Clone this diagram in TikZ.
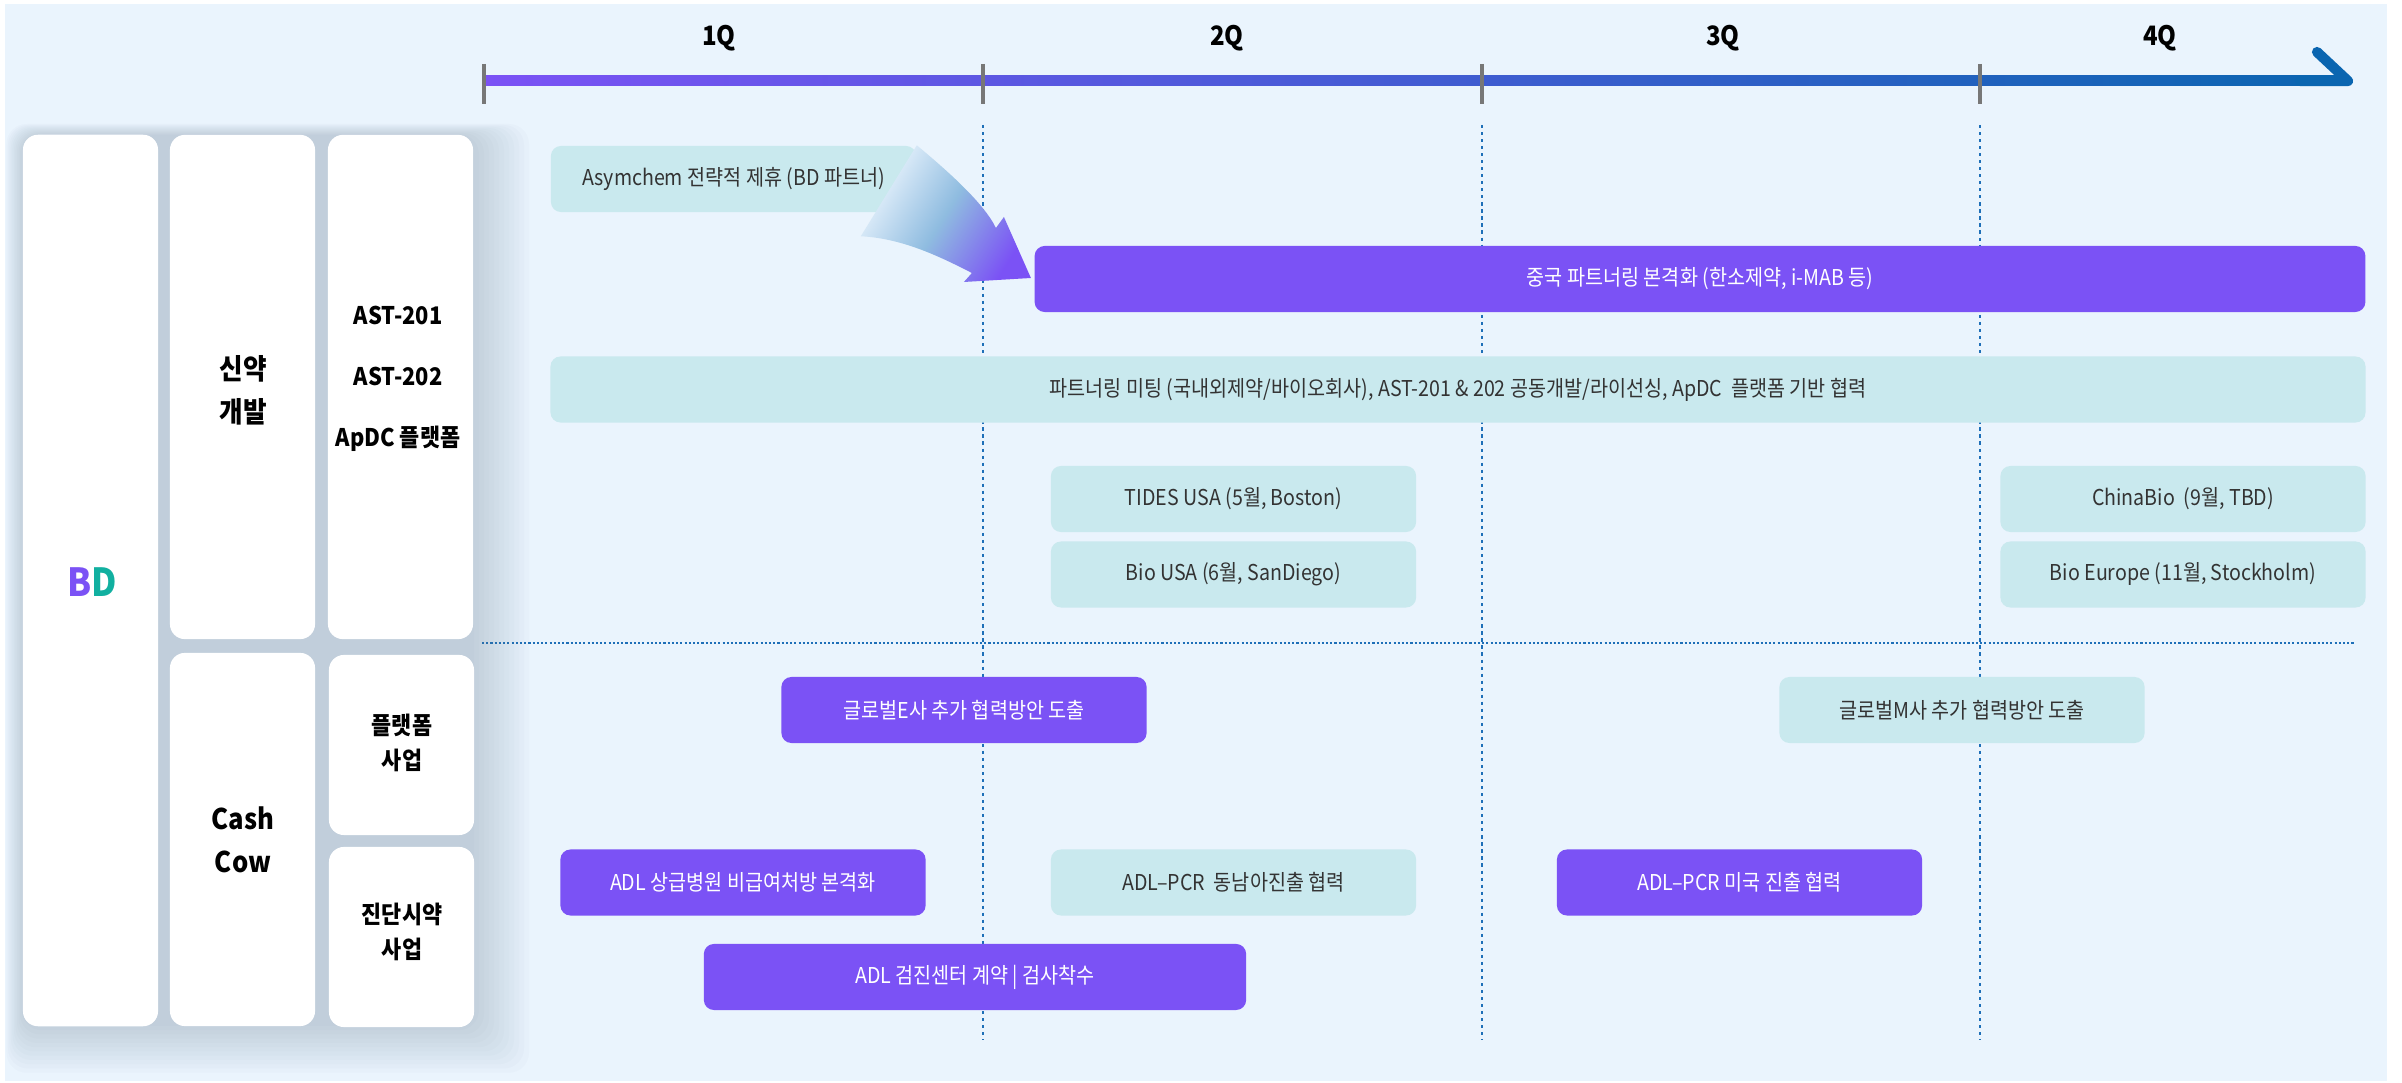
\documentclass[tikz,border=0pt]{standalone}
\usepackage{fontspec}
\setmainfont{Noto Sans CJK KR}[FakeStretch=0.9]
\usetikzlibrary{calc}

\definecolor{bdBg}{HTML}{EAF4FD}
\definecolor{bdPurple}{HTML}{7B52F5}
\definecolor{bdTeal}{HTML}{C9E9EE}
\definecolor{bdGreen}{HTML}{11B0A0}
\definecolor{bdBlue}{HTML}{0A65B0}
\definecolor{bdMidBlue}{HTML}{8FBCE0}
\definecolor{bdDot}{HTML}{1E6FB8}
\definecolor{bdTick}{HTML}{777777}
\definecolor{bdText}{HTML}{333333}
\definecolor{bdShadow}{HTML}{5A6F8C}

\tikzset{
  panel/.style={fill=white, rounded corners=0.15cm, inner sep=0pt, minimum width=1.45cm},
  tealbox/.style={fill=bdTeal, rounded corners=0.1cm, inner sep=0pt, minimum width=3.65cm,
    minimum height=0.66cm, text=bdText, font=\fontsize{6.2pt}{7.5pt}\selectfont},
  purplebox/.style={tealbox, fill=bdPurple, text=white},
  quarter/.style={font=\bfseries\fontsize{7.6pt}{9pt}\selectfont},
  catlabel/.style={align=center, font=\bfseries\fontsize{8.1pt}{12.2pt}\selectfont},
  sublabel/.style={align=center, font=\bfseries\fontsize{6.9pt}{10pt}\selectfont},
  gridline/.style={bdDot, line width=0.6pt, dash pattern=on 0.9pt off 1.1pt}
}

\begin{document}
\begin{tikzpicture}[x=0.01cm, y=-0.01cm]
% canvas in pixel units, y going down
\useasboundingbox[fill=white] (0,0) rectangle (2402,1083);
\fill[bdBg] (5,4) rectangle (2387,1081);

% Timeline
\coordinate (tlStart) at (484,81);
\coordinate (tlEnd) at (2348,81);
\shade[left color=bdPurple, right color=bdBlue] ($(tlStart)+(0,-5)$) rectangle ($(tlEnd)+(0,5)$);
\draw[bdBlue, line width=2.9pt, line cap=round, line join=round] (2317,52) -- (tlEnd) -- (2300,81);
\foreach \x in {484,983,1482,1980}
  \draw[bdTick, line width=1.1pt] (\x,64) -- (\x,104);

\node[quarter] (q1) at (719,38) {1Q};
\node[quarter] (q2) at (1227,38) {2Q};
\node[quarter] (q3) at (1723,38) {3Q};
\node[quarter] (q4) at (2160,38) {4Q};

% Quarter grid
\foreach \x in {983,1482,1980}
  \draw[gridline] (\x,125) -- (\x,1040);
\draw[bdDot, line width=0.7pt, dash pattern=on 0.6pt off 0.6pt] (482,643) -- (2354,643);

% Soft shadow behind the left panels
\foreach \s in {0,5,...,55}
  \fill[bdShadow, opacity=0.022, rounded corners=0.2cm] (23-0.3*\s,135-0.2*\s) rectangle (474+\s,1026+0.85*\s);

% Left panels
\node[panel, minimum width=1.35cm, minimum height=8.91cm] (pBD) at (90.5,580.5) {};
\node[panel, minimum height=5.04cm] (pNew) at (242.5,387) {};
\node[panel, minimum height=5.04cm] (pAst) at (400.5,387) {};
\node[panel, minimum height=3.73cm] (pCash) at (242.5,839.5) {};
\node[panel, minimum height=1.80cm] (pPlat) at (401.5,745) {};
\node[panel, minimum height=1.80cm] (pDiag) at (401.5,937) {};

\node[font=\bfseries\fontsize{11pt}{13pt}\selectfont] (lBD) at (92,582) {\textcolor{bdPurple}{B}\textcolor{bdGreen}{D}};
\node[catlabel] (lNew) at (243,390) {신약\\개발};
\node[sublabel, font=\bfseries\fontsize{6.9pt}{17.4pt}\selectfont] (lAst) at (398,379) {AST-201\\AST-202\\ApDC 플랫폼};
\node[catlabel] (lCash) at (243,840) {Cash\\Cow};
\node[sublabel] (lPlat) at (402,743) {플랫폼\\사업};
\node[sublabel] (lDiag) at (402,932) {진단시약\\사업};

% 신약개발 row
\node[tealbox] (asym) at (733.5,179) {Asymchem 전략적 제휴 (BD 파트너)};
\node[purplebox, minimum width=13.3cm] (china) at (1700,279) {중국 파트너링 본격화 (한소제약, i-MAB 등)};
\node[tealbox, minimum width=18.14cm] (meet) at (1458,389.5) {파트너링 미팅 (국내외제약/바이오회사), AST-201 \& 202 공동개발/라이선싱, ApDC\ \ 플랫폼 기반 협력};
\node[tealbox] (tides) at (1233.5,499) {TIDES USA (5월, Boston)};
\node[tealbox] (biousa) at (1233.5,574.5) {Bio USA (6월, SanDiego)};
\node[tealbox] (chinabio) at (2183,499) {ChinaBio\ \ (9월, TBD)};
\node[tealbox] (bioeu) at (2183,574.5) {Bio Europe (11월, Stockholm)};

% Cash Cow rows
\node[purplebox] (globalE) at (964,710) {글로벌E사 추가 협력방안 도출};
\node[tealbox] (globalM) at (1962,710) {글로벌M사 추가 협력방안 도출};
\node[purplebox] (adlRx) at (743,882.5) {ADL 상급병원 비급여처방 본격화};
\node[tealbox] (pcrAsia) at (1233.5,882.5) {ADL–PCR\ \ 동남아진출 협력};
\node[purplebox] (pcrUS) at (1739.5,882.5) {ADL–PCR 미국 진출 협력};
\node[purplebox, minimum width=5.42cm] (adlCheck) at (975,977) {ADL 검진센터 계약 | 검사착수};

% Partner arrow
\shade[left color=bdBg, right color=bdPurple, middle color=bdMidBlue, shading angle=58]
  (asym.north east) .. controls +(30,25) and +(-12,-25) .. ($(china.west)+(-38,-51)$)
  -- ($(china.west)+(-30,-62)$) -- ($(china.west)+(-3,-1)$) -- ($(china.west)+(-70,3)$)
  -- ($(china.west)+(-62,-6)$) .. controls +(-35,-18) and +(40,2) .. ($(asym.north east)+(-56,91)$)
  -- cycle;
\end{tikzpicture}
\end{document}
